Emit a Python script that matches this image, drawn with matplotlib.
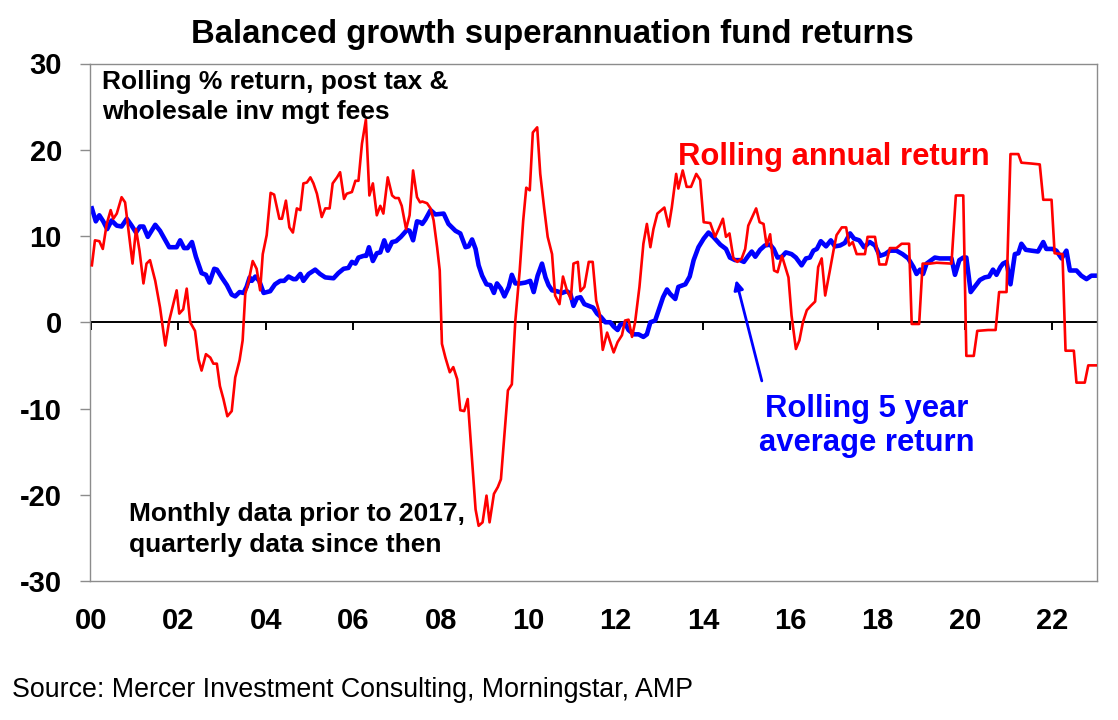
import matplotlib
matplotlib.use("Agg")
import matplotlib.pyplot as plt

# ---------------- data (decimal year, % return) ----------------
red_years = [
    2000.02, 2000.09, 2000.19, 2000.27, 2000.36, 2000.45, 2000.51, 2000.59, 2000.70, 2000.78,
    2000.85, 2000.95, 2001.03, 2001.11, 2001.20, 2001.27, 2001.35, 2001.47, 2001.58, 2001.70,
    2001.79, 2001.96, 2002.02, 2002.11, 2002.19, 2002.27, 2002.38, 2002.46, 2002.53, 2002.63,
    2002.73, 2002.80, 2002.88, 2002.95, 2003.03, 2003.12, 2003.22, 2003.30, 2003.40, 2003.47,
    2003.53, 2003.60, 2003.70, 2003.79, 2003.87, 2003.93, 2004.02, 2004.11, 2004.19, 2004.31,
    2004.37, 2004.46, 2004.54, 2004.62, 2004.71, 2004.79, 2004.86, 2004.94, 2005.02, 2005.09,
    2005.17, 2005.28, 2005.36, 2005.46, 2005.53, 2005.63, 2005.70, 2005.79, 2005.85, 2005.97,
    2006.05, 2006.12, 2006.20, 2006.29, 2006.37, 2006.45, 2006.54, 2006.62, 2006.69, 2006.79,
    2006.89, 2006.96, 2007.04, 2007.11, 2007.21, 2007.29, 2007.37, 2007.46, 2007.53, 2007.58,
    2007.69, 2007.77, 2007.84, 2007.92, 2007.98, 2008.03, 2008.11, 2008.21, 2008.29, 2008.38,
    2008.45, 2008.54, 2008.62, 2008.72, 2008.80, 2008.87, 2008.96, 2009.05, 2009.12, 2009.22,
    2009.31, 2009.38, 2009.46, 2009.54, 2009.63, 2009.71, 2009.81, 2009.89, 2009.96, 2010.04,
    2010.11, 2010.21, 2010.28, 2010.37, 2010.45, 2010.55, 2010.62, 2010.72, 2010.80, 2010.89,
    2010.98, 2011.04, 2011.14, 2011.20, 2011.29, 2011.39, 2011.48, 2011.56, 2011.64, 2011.71,
    2011.81, 2011.96, 2012.05, 2012.15, 2012.22, 2012.30, 2012.38, 2012.45, 2012.55, 2012.64,
    2012.72, 2012.80, 2012.87, 2012.96, 2013.12, 2013.22, 2013.29, 2013.39, 2013.44, 2013.54,
    2013.63, 2013.73, 2013.85, 2013.94, 2014.02, 2014.17, 2014.28, 2014.36, 2014.46, 2014.53,
    2014.61, 2014.70, 2014.79, 2014.89, 2014.97, 2015.04, 2015.14, 2015.22, 2015.30, 2015.39,
    2015.46, 2015.54, 2015.63, 2015.71, 2015.81, 2015.96, 2016.03, 2016.13, 2016.21, 2016.29,
    2016.38, 2016.47, 2016.57, 2016.64, 2016.72, 2016.80, 2016.90, 2016.99, 2017.06, 2017.18,
    2017.28, 2017.35, 2017.43, 2017.52, 2017.71, 2017.77, 2017.94, 2018.04, 2018.19, 2018.28,
    2018.43, 2018.55, 2018.72, 2018.78, 2018.95, 2019.03, 2019.20, 2019.35, 2019.69, 2019.79,
    2019.96, 2020.03, 2020.20, 2020.28, 2020.53, 2020.70, 2020.78, 2020.95, 2021.04, 2021.22,
    2021.29, 2021.52, 2021.71, 2021.79, 2021.98, 2022.05, 2022.23, 2022.30, 2022.49, 2022.55,
    2022.74, 2022.82, 2023.01,
]
red_values = [
    6.6, 9.5, 9.4, 8.5, 11.4, 13.0, 12.0, 12.6, 14.5, 13.9,
    11.0, 6.8, 10.8, 8.3, 4.5, 6.8, 7.2, 4.8, 1.7, -2.7,
    0.2, 3.7, 1.0, 1.5, 3.9, 0.0, -1.0, -4.3, -5.6, -3.7,
    -4.1, -4.8, -4.8, -7.4, -8.9, -10.9, -10.3, -6.4, -4.4, -2.1,
    3.3, 4.6, 7.1, 6.2, 3.7, 7.9, 10.1, 15.0, 14.8, 12.0,
    12.0, 14.1, 11.0, 10.4, 13.2, 13.0, 16.1, 16.2, 16.8, 16.1,
    14.9, 12.2, 13.2, 13.2, 16.1, 16.8, 17.4, 14.3, 14.9, 15.1,
    16.4, 16.4, 20.7, 23.5, 14.7, 16.1, 12.4, 13.5, 12.6, 16.8,
    14.7, 14.4, 14.4, 13.5, 10.8, 12.4, 17.6, 14.5, 13.9, 14.0,
    13.8, 13.2, 11.8, 8.7, 6.0, -2.5, -4.1, -5.8, -5.2, -6.6,
    -10.2, -10.3, -8.9, -16.1, -21.7, -23.6, -23.2, -20.1, -23.2, -19.9,
    -19.1, -18.2, -13.0, -7.9, -7.2, 0.2, 6.0, 11.8, 15.6, 15.3,
    22.0, 22.6, 17.2, 13.2, 9.9, 7.9, 3.1, 2.1, 5.3, 3.7,
    2.7, 6.8, 7.0, 3.6, 4.1, 7.0, 7.0, 2.5, 1.0, -3.2,
    -1.2, -3.5, -2.3, -1.5, 0.2, 0.3, -1.7, 0.0, 4.1, 9.1,
    11.4, 8.7, 10.8, 12.6, 13.3, 11.1, 13.3, 17.2, 15.5, 17.6,
    15.7, 15.7, 17.2, 16.5, 11.6, 11.5, 9.9, 10.8, 12.0, 9.9,
    10.3, 7.4, 7.0, 7.4, 8.5, 11.2, 12.3, 13.2, 11.6, 11.4,
    8.9, 10.2, 6.0, 5.8, 7.7, 5.2, 0.8, -3.1, -2.1, 0.0,
    1.4, 1.9, 2.4, 6.4, 7.4, 3.1, 5.8, 8.3, 10.1, 11.0,
    11.0, 8.9, 9.3, 7.9, 7.9, 9.9, 9.9, 6.7, 6.7, 8.6,
    8.6, 9.1, 9.1, -0.2, -0.2, 6.8, 6.8, 6.9, 6.8, 14.7,
    14.7, -3.9, -3.9, -1.0, -0.9, -0.9, 3.5, 3.5, 19.5, 19.5,
    18.5, 18.4, 18.3, 14.2, 14.2, 8.0, 7.9, -3.3, -3.3, -7.0,
    -7.0, -5.0, -5.0,
]

blue_years = [
    2000.02, 2000.11, 2000.19, 2000.28, 2000.37, 2000.47, 2000.59, 2000.70, 2000.82, 2000.93,
    2001.03, 2001.12, 2001.20, 2001.30, 2001.47, 2001.58, 2001.69, 2001.79, 2001.96, 2002.04,
    2002.13, 2002.21, 2002.31, 2002.40, 2002.53, 2002.63, 2002.71, 2002.82, 2002.88, 2002.99,
    2003.11, 2003.22, 2003.30, 2003.40, 2003.49, 2003.56, 2003.63, 2003.68, 2003.76, 2003.85,
    2003.95, 2004.10, 2004.21, 2004.33, 2004.42, 2004.52, 2004.63, 2004.69, 2004.79, 2004.86,
    2004.98, 2005.13, 2005.24, 2005.36, 2005.55, 2005.66, 2005.78, 2005.89, 2005.97, 2006.05,
    2006.12, 2006.24, 2006.30, 2006.36, 2006.45, 2006.54, 2006.62, 2006.71, 2006.79, 2006.89,
    2006.98, 2007.09, 2007.23, 2007.29, 2007.37, 2007.46, 2007.53, 2007.58, 2007.65, 2007.77,
    2007.88, 2008.07, 2008.18, 2008.34, 2008.45, 2008.57, 2008.64, 2008.72, 2008.80, 2008.87,
    2008.95, 2009.05, 2009.14, 2009.22, 2009.29, 2009.38, 2009.46, 2009.56, 2009.63, 2009.71,
    2009.82, 2009.94, 2010.05, 2010.13, 2010.22, 2010.32, 2010.40, 2010.47, 2010.55, 2010.66,
    2010.78, 2010.89, 2010.97, 2011.04, 2011.12, 2011.20, 2011.29, 2011.39, 2011.49, 2011.58,
    2011.67, 2011.77, 2011.88, 2011.96, 2012.05, 2012.11, 2012.22, 2012.30, 2012.42, 2012.53,
    2012.64, 2012.72, 2012.80, 2012.91, 2012.99, 2013.09, 2013.18, 2013.25, 2013.37, 2013.44,
    2013.60, 2013.70, 2013.79, 2013.90, 2014.02, 2014.13, 2014.24, 2014.40, 2014.53, 2014.62,
    2014.74, 2014.85, 2014.94, 2015.04, 2015.12, 2015.20, 2015.31, 2015.42, 2015.54, 2015.62,
    2015.71, 2015.81, 2015.90, 2016.03, 2016.13, 2016.26, 2016.36, 2016.45, 2016.53, 2016.61,
    2016.70, 2016.82, 2016.93, 2017.02, 2017.14, 2017.25, 2017.37, 2017.46, 2017.58, 2017.69,
    2017.82, 2017.94, 2018.05, 2018.17, 2018.28, 2018.43, 2018.57, 2018.70, 2018.82, 2018.89,
    2018.97, 2019.04, 2019.12, 2019.20, 2019.31, 2019.42, 2019.58, 2019.69, 2019.77, 2019.87,
    2019.96, 2020.03, 2020.13, 2020.22, 2020.34, 2020.45, 2020.55, 2020.64, 2020.72, 2020.81,
    2020.87, 2020.95, 2021.04, 2021.14, 2021.22, 2021.29, 2021.39, 2021.52, 2021.67, 2021.79,
    2021.86, 2022.00, 2022.09, 2022.21, 2022.32, 2022.40, 2022.55, 2022.66, 2022.78, 2022.89,
    2023.01,
]
blue_values = [
    13.2, 11.7, 12.4, 11.7, 10.8, 11.8, 11.2, 11.1, 12.0, 11.2,
    10.4, 11.1, 11.1, 9.9, 11.3, 10.6, 9.6, 8.7, 8.7, 9.5,
    8.6, 8.6, 9.3, 7.6, 5.7, 5.5, 4.6, 6.2, 6.1, 5.2,
    4.3, 3.2, 3.0, 3.5, 3.4, 4.1, 5.2, 4.8, 5.3, 4.8,
    3.4, 3.6, 4.4, 4.8, 4.8, 5.3, 5.0, 5.0, 5.6, 4.8,
    5.6, 6.1, 5.6, 5.2, 5.1, 5.7, 6.2, 6.3, 7.0, 6.8,
    7.5, 7.7, 7.7, 8.7, 7.1, 8.0, 8.1, 9.5, 8.3, 9.3,
    9.4, 9.9, 10.7, 10.6, 9.5, 11.7, 11.6, 11.4, 11.9, 13.0,
    12.5, 12.6, 11.4, 10.6, 10.3, 8.7, 8.8, 9.6, 8.5, 6.6,
    5.4, 4.4, 4.3, 3.4, 4.5, 3.9, 3.0, 4.1, 5.5, 4.5,
    4.5, 4.6, 4.8, 3.5, 5.4, 6.8, 5.2, 4.3, 3.7, 3.6,
    3.4, 3.6, 3.3, 1.9, 2.8, 2.9, 2.1, 1.9, 1.7, 1.0,
    0.6, 0.0, 0.0, -0.5, -0.9, -0.3, -0.1, -0.9, -1.4, -1.4,
    -1.7, -1.4, 0.0, 0.2, 1.4, 2.9, 3.8, 3.3, 2.7, 4.1,
    4.4, 5.3, 7.2, 8.7, 9.7, 10.4, 9.9, 9.0, 8.5, 7.5,
    7.2, 7.2, 7.0, 7.7, 8.2, 7.6, 8.4, 8.9, 9.0, 8.5,
    7.5, 7.6, 8.1, 7.9, 7.5, 6.6, 7.4, 7.5, 8.3, 8.5,
    9.4, 8.8, 9.5, 8.8, 8.9, 9.2, 10.3, 9.7, 9.5, 8.7,
    9.3, 8.9, 7.7, 7.9, 8.3, 8.3, 7.9, 7.4, 6.4, 5.6,
    6.1, 5.6, 6.8, 7.1, 7.5, 7.4, 7.4, 7.4, 5.5, 7.2,
    7.5, 7.5, 3.5, 4.1, 4.9, 5.2, 5.3, 6.1, 5.5, 6.4,
    6.8, 7.0, 4.4, 7.9, 8.0, 9.1, 8.4, 8.3, 8.2, 9.3,
    8.5, 8.5, 8.3, 7.4, 8.3, 6.0, 6.0, 5.4, 5.0, 5.4,
    5.4,
]

tick_years = [2000, 2002, 2004, 2006, 2008, 2010, 2012, 2014, 2016, 2018, 2020, 2022]
tick_labels = ["00", "02", "04", "06", "08", "10", "12", "14", "16", "18", "20", "22"]
y_ticks = [-30, -20, -10, 0, 10, 20, 30]

title = "Balanced growth superannuation fund returns"
note_top = ["Rolling % return, post tax &", "wholesale inv mgt fees"]
note_bottom = ["Monthly data prior to 2017,", "quarterly data since then"]
red_label = "Rolling annual return"
blue_label = ["Rolling 5 year", "average return"]
source = "Source: Mercer Investment Consulting, Morningstar, AMP"

# ---------------- figure ----------------
W, H = 1118, 720
BOLD = "Liberation Sans"
RED = "#FF0000"
BLUE = "#0000FF"
GREY = "#8C8C8C"

fig = plt.figure(figsize=(W / 100, H / 100), dpi=100)
ax = fig.add_axes([90 / W, 1 - 581 / H, (1097 - 90) / W, (581 - 63.5) / H])


def fx(px):
    return px / W


def fy(py):
    return 1 - py / H


ax.axhline(0, color="black", lw=1.4, zorder=1)
ax.plot(blue_years, blue_values, color=BLUE, lw=3.3, zorder=2, solid_joinstyle="round")
ax.plot(red_years, red_values, color=RED, lw=1.9, zorder=3, solid_joinstyle="round")

ax.set_xlim(1999.977, 2023.02)
ax.set_ylim(-30, 30)

for s in ax.spines.values():
    s.set_color(GREY)
    s.set_linewidth(1.0)

ax.set_yticks(y_ticks)
ax.set_yticklabels([str(v) for v in y_ticks], fontfamily=BOLD, fontweight="bold", fontsize=21)
ax.tick_params(axis="y", direction="out", length=7.2, width=1.0, color=GREY, pad=13)

ax.set_xticks(tick_years)
ax.set_xticklabels(tick_labels, fontfamily=BOLD, fontweight="bold", fontsize=21)
ax.tick_params(axis="x", length=0, pad=19)

# tick marks on the zero line
sec = ax.secondary_xaxis(0.4999)
sec.set_xticks(tick_years)
sec.tick_params(axis="x", direction="out", length=6, width=1.4, color="black",
                labelbottom=False, labeltop=False)
for s in sec.spines.values():
    s.set_visible(False)

# ---------------- text ----------------
fig.text(fx(552.5), fy(43.3), title, ha="center", va="baseline",
         fontfamily=BOLD, fontweight="bold", fontsize=23.7, color="black")

fig.text(fx(102), fy(88.5), note_top[0], ha="left", va="baseline",
         fontfamily=BOLD, fontweight="bold", fontsize=19, color="black")
fig.text(fx(102), fy(119), note_top[1], ha="left", va="baseline",
         fontfamily=BOLD, fontweight="bold", fontsize=19, color="black")

fig.text(fx(129), fy(521), note_bottom[0], ha="left", va="baseline",
         fontfamily=BOLD, fontweight="bold", fontsize=19, color="black")
fig.text(fx(129), fy(552), note_bottom[1], ha="left", va="baseline",
         fontfamily=BOLD, fontweight="bold", fontsize=19, color="black")

fig.text(fx(678), fy(165), red_label, ha="left", va="baseline",
         fontfamily=BOLD, fontweight="bold", fontsize=22.3, color=RED)

fig.text(fx(867), fy(417), blue_label[0], ha="center", va="baseline",
         fontfamily=BOLD, fontweight="bold", fontsize=22.3, color=BLUE)
fig.text(fx(867), fy(451), blue_label[1], ha="center", va="baseline",
         fontfamily=BOLD, fontweight="bold", fontsize=22.3, color=BLUE)

ax.annotate("", xy=(2014.76, 4.9), xytext=(2015.35, -6.8),
            arrowprops=dict(arrowstyle="-|>", color=BLUE, lw=2.0,
                            mutation_scale=14, shrinkA=0, shrinkB=0))

fig.text(fx(12.5), fy(697), source, ha="left", va="baseline",
         fontfamily="Liberation Sans", fontsize=19.3, color="black")

fig.savefig("out.png", dpi=100)
